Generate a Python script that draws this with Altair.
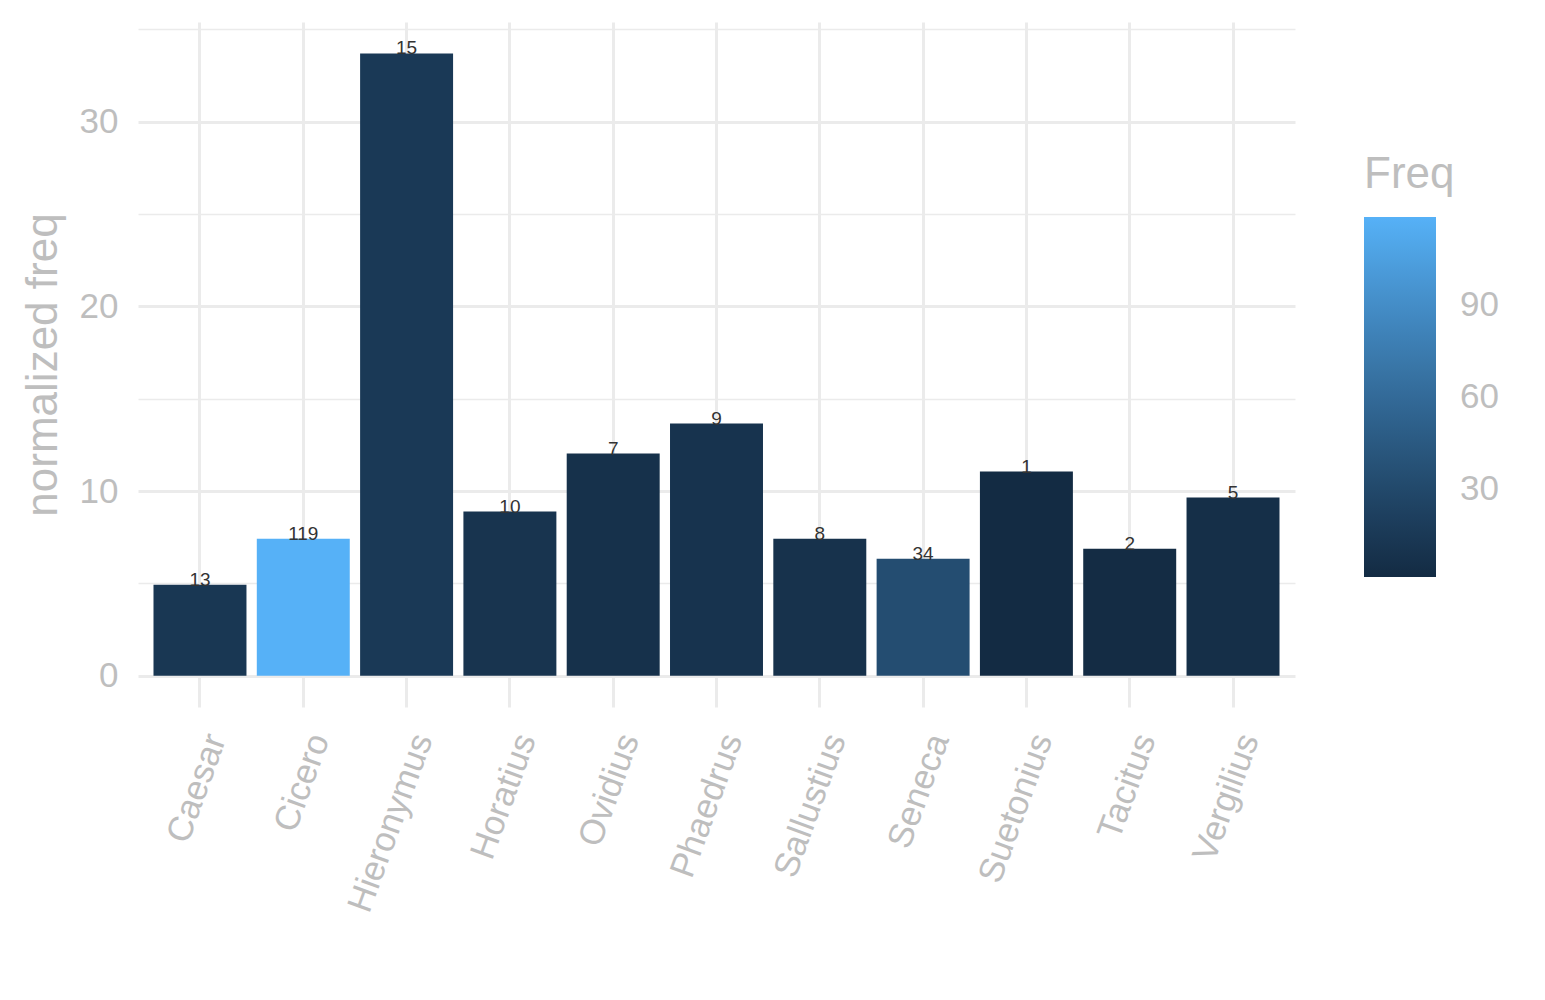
import altair as alt
import pandas as pd

authors = ["Caesar", "Cicero", "Hieronymus", "Horatius", "Ovidius", "Phaedrus",
           "Sallustius", "Seneca", "Suetonius", "Tacitus", "Vergilius"]
norm_freq = [4.93, 7.42, 33.7, 8.89, 12.03, 13.66, 7.42, 6.34, 11.06, 6.88, 9.65]
freq = [13, 119, 15, 10, 7, 9, 8, 34, 1, 2, 5]

df = pd.DataFrame({"author": authors, "nf": norm_freq, "Freq": freq})

GRAY = "#BEBEBE"
GRID = "#EBEBEB"
FONT = "Liberation Sans"

x_enc = alt.X(
    "author:N",
    sort=authors,
    title=None,
    scale=alt.Scale(paddingInner=0.1, paddingOuter=0.15),
    axis=alt.Axis(
        labelAngle=290,
        labelAlign="right",
        labelBaseline="top",
        labelFontSize=35,
        labelColor=GRAY,
        labelFont=FONT,
        labelPadding=22,
        labelLimit=500,
        ticks=False,
        domain=False,
        grid=True,
        gridColor=GRID,
        gridWidth=3,
        bandPosition=0.5,
    ),
)

y_enc = alt.Y(
    "nf:Q",
    title="normalized freq",
    scale=alt.Scale(domain=[-1.69, 35.4], nice=False, zero=False),
    axis=alt.Axis(
        values=[0, 5, 10, 15, 20, 25, 30, 35],
        labelExpr="datum.value % 10 === 0 ? datum.label : ''",
        labelFontSize=35,
        labelColor=GRAY,
        labelFont=FONT,
        labelPadding=20,
        ticks=False,
        domain=False,
        grid=True,
        gridColor=GRID,
        gridWidth={"condition": {"test": "datum.value % 10 !== 0", "value": 1.5}, "value": 3},
        titleFontSize=44,
        titleFont=FONT,
        titleFontWeight="normal",
        titleColor=GRAY,
        titlePadding=14,
    ),
)

color_enc = alt.Color(
    "Freq:Q",
    scale=alt.Scale(domain=[1, 119], range=["#132B43", "#56B1F7"], interpolate="lab"),
    legend=alt.Legend(
        title="Freq",
        titleFontSize=44,
        titleFont=FONT,
        titleFontWeight="normal",
        titleColor=GRAY,
        titlePadding=20,
        values=[30, 60, 90],
        labelFontSize=35,
        labelFont=FONT,
        labelColor=GRAY,
        labelOffset=24,
        gradientLength=360,
        gradientThickness=72,
        gradientStrokeWidth=0,
        orient="none",
        legendX=1226,
        legendY=131,
        direction="vertical",
    ),
)

bars = alt.Chart(df).mark_bar().encode(x=x_enc, y=y_enc, color=color_enc)

labels = alt.Chart(df).mark_text(
    baseline="alphabetic", dy=1, fontSize=19, font=FONT, color="#333333"
).encode(x=alt.X("author:N", sort=authors), y="nf:Q", text="Freq:Q")

chart = (
    alt.layer(bars, labels)
    .properties(
        width=1157,
        height=685,
        autosize=alt.AutoSizeParams(type="none"),
        padding={"left": 130, "top": 14, "right": 230, "bottom": 270},
        background="white",
    )
    .configure_view(stroke=None)
)

chart.save("out.html", embed_options={"renderer": "svg", "actions": False})
